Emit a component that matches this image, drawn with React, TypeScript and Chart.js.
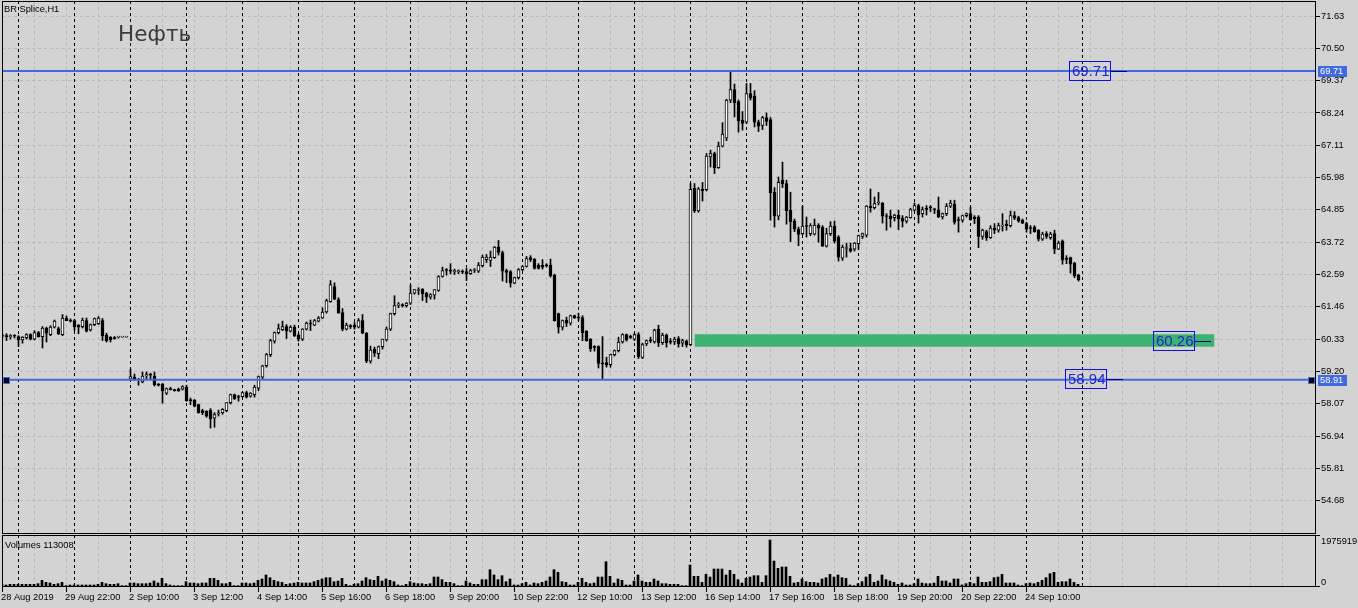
import React, { useEffect, useRef } from 'react';
import { Chart, registerables } from 'chart.js';

Chart.register(...registerables);

// ---------------- data ----------------
const symbolTitle = 'BR Splice,H1';
const chartTitle = 'Нефть';

const xLabels = ['28 Aug 2019', '29 Aug 22:00', '2 Sep 10:00', '3 Sep 12:00', '4 Sep 14:00', '5 Sep 16:00', '6 Sep 18:00', '9 Sep 20:00', '10 Sep 22:00', '12 Sep 10:00', '13 Sep 12:00', '16 Sep 14:00', '17 Sep 16:00', '18 Sep 18:00', '19 Sep 20:00', '20 Sep 22:00', '24 Sep 10:00'];
const xLabelBars = [0, 16, 32, 48, 64, 80, 96, 112, 128, 144, 160, 176, 192, 208, 224, 240, 256];

const priceTicks = [54.68, 55.81, 56.94, 58.07, 59.20, 60.33, 61.46, 62.59, 63.72, 64.85, 65.98, 67.11, 68.24, 69.37, 70.50, 71.63];

const opens = [
  60.43, 60.45, 60.42, 60.45, 60.42, 60.30, 60.38, 60.49, 60.33, 60.56,
  60.42, 60.72, 60.49, 60.75, 60.70, 60.49, 61.07, 60.99, 60.98, 60.82,
  60.77, 60.98, 60.65, 60.84, 60.87, 60.98, 60.47, 60.40, 60.38, 60.40,
  60.40, 60.40, 58.93, 59.00, 58.93, 58.83, 59.04, 59.09, 59.04, 58.74,
  58.76, 58.44, 58.60, 58.55, 58.58, 58.58, 58.65, 58.20, 58.20, 58.04,
  57.83, 57.81, 57.85, 57.57, 57.72, 57.76, 57.83, 58.11, 58.39, 58.30,
  58.32, 58.46, 58.34, 58.39, 58.62, 59.00, 59.40, 59.79, 60.26, 60.56,
  60.66, 60.77, 60.61, 60.75, 60.47, 60.33, 60.68, 60.87, 60.82, 60.96,
  61.07, 61.28, 61.64, 62.17, 61.71, 61.26, 60.68, 60.80, 60.82, 60.75,
  60.98, 60.54, 59.56, 59.97, 59.82, 60.07, 60.30, 60.68, 61.22, 61.52,
  61.52, 61.50, 61.59, 61.94, 62.03, 62.08, 61.94, 61.80, 61.87, 62.03,
  62.52, 62.75, 62.73, 62.69, 62.69, 62.69, 62.69, 62.62, 62.73, 62.71,
  62.90, 63.11, 63.08, 63.18, 63.55, 63.36, 62.73, 62.69, 62.29, 62.48,
  62.76, 62.87, 63.18, 63.13, 62.92, 62.92, 62.90, 62.92, 62.57, 61.22,
  60.75, 61.00, 60.89, 61.15, 61.08, 61.08, 60.61, 60.33, 60.05, 60.07,
  59.50, 59.51, 59.44, 59.79, 59.93, 60.23, 60.49, 60.40, 60.33, 60.49,
  59.69, 60.16, 60.28, 60.23, 60.68, 60.21, 60.47, 60.23, 60.23, 60.35,
  60.19, 60.26, 60.14, 65.60, 64.81, 65.58, 65.56, 66.70, 66.82, 66.33,
  67.08, 67.36, 68.69, 69.06, 68.64, 67.99, 67.92, 68.92, 68.83, 67.92,
  67.80, 68.08, 68.01, 65.47, 64.63, 65.89, 65.77, 64.84, 64.46, 64.18,
  64.02, 64.28, 64.02, 64.00, 64.32, 64.25, 63.58, 64.02, 64.28, 63.90,
  63.16, 63.50, 63.50, 63.48, 63.67, 63.92, 63.97, 64.98, 64.93, 65.09,
  65.09, 64.63, 64.63, 64.58, 64.67, 64.56, 64.46, 64.58, 64.84, 65.00,
  64.72, 64.88, 64.93, 64.86, 64.84, 64.60, 64.72, 64.98, 65.05, 64.49,
  64.49, 64.65, 64.72, 64.60, 64.60, 63.92, 64.09, 63.88, 64.21, 64.14,
  64.28, 64.35, 64.30, 64.65, 64.58, 64.49, 64.37, 64.21, 64.25, 64.14,
  63.83, 64.02, 63.88, 64.02, 63.48, 63.76, 63.13, 63.18, 62.99, 62.57,
];
const highs = [
  60.52, 60.52, 60.49, 60.49, 60.45, 60.42, 60.52, 60.52, 60.63, 60.60,
  60.77, 60.75, 60.80, 61.00, 60.75, 61.19, 61.14, 61.04, 61.02, 60.84,
  61.07, 61.07, 60.86, 61.07, 61.12, 61.05, 60.54, 60.42, 60.42, 60.42,
  60.40, 60.40, 59.28, 59.11, 58.95, 59.18, 59.18, 59.14, 59.18, 58.78,
  58.78, 58.62, 58.65, 58.58, 58.62, 58.70, 58.72, 58.27, 58.22, 58.06,
  57.88, 57.83, 57.90, 57.76, 57.85, 57.90, 58.11, 58.41, 58.41, 58.37,
  58.48, 58.51, 58.46, 58.72, 59.04, 59.42, 59.83, 60.33, 60.58, 60.86,
  60.96, 60.84, 60.80, 60.82, 60.52, 60.70, 60.93, 61.00, 61.02, 61.12,
  61.43, 61.73, 62.38, 62.30, 61.78, 61.40, 60.89, 60.84, 60.91, 61.05,
  61.19, 60.56, 60.09, 60.05, 60.09, 60.33, 60.75, 61.24, 61.85, 61.61,
  61.57, 61.61, 62.22, 62.06, 62.13, 62.10, 61.97, 61.92, 62.06, 62.55,
  62.85, 62.80, 62.97, 62.78, 62.75, 62.75, 62.80, 62.78, 62.80, 63.01,
  63.27, 63.29, 63.41, 63.57, 63.78, 63.41, 62.78, 62.73, 62.50, 62.80,
  62.90, 63.22, 63.25, 63.15, 62.97, 63.11, 62.97, 63.13, 62.60, 61.24,
  61.00, 61.10, 61.17, 61.17, 61.24, 61.15, 60.63, 60.35, 60.10, 60.10,
  60.42, 59.70, 59.81, 59.95, 60.40, 60.52, 60.51, 60.47, 60.54, 60.56,
  60.19, 60.30, 60.40, 60.68, 60.82, 60.54, 60.51, 60.35, 60.40, 60.42,
  60.33, 60.30, 65.77, 65.77, 65.63, 65.81, 66.82, 66.94, 66.87, 67.22,
  67.90, 68.72, 69.68, 69.25, 68.69, 68.29, 69.27, 69.27, 69.02, 67.99,
  68.12, 68.24, 68.08, 65.63, 66.00, 66.52, 65.89, 65.47, 64.53, 64.25,
  64.98, 64.60, 64.37, 64.53, 64.37, 64.30, 64.21, 64.44, 64.46, 63.95,
  63.62, 63.69, 63.69, 63.71, 63.97, 64.04, 65.00, 65.58, 65.30, 65.46,
  65.11, 64.72, 64.84, 64.70, 64.84, 64.65, 64.62, 64.91, 65.09, 65.05,
  64.95, 65.00, 65.00, 64.91, 65.30, 64.74, 65.07, 65.19, 65.19, 64.60,
  64.67, 64.74, 64.95, 64.65, 64.65, 64.18, 64.14, 64.30, 64.37, 64.39,
  64.72, 64.49, 64.81, 64.79, 64.63, 64.53, 64.42, 64.30, 64.30, 64.16,
  64.07, 64.09, 64.07, 64.14, 63.76, 63.80, 63.25, 63.20, 63.02, 62.60,
];
const lows = [
  60.37, 60.28, 60.33, 60.37, 60.07, 60.19, 60.33, 60.30, 60.30, 60.40,
  60.02, 60.23, 60.45, 60.72, 60.49, 60.45, 60.98, 60.93, 60.63, 60.52,
  60.72, 60.58, 60.61, 60.80, 60.84, 60.28, 60.23, 60.23, 60.33, 60.37,
  60.40, 60.40, 58.88, 58.88, 58.72, 58.80, 58.93, 58.93, 58.69, 58.69,
  58.09, 58.39, 58.55, 58.51, 58.51, 58.55, 58.16, 58.04, 57.96, 57.74,
  57.69, 57.60, 57.22, 57.25, 57.64, 57.70, 57.79, 58.06, 58.22, 58.16,
  58.30, 58.27, 58.30, 58.30, 58.53, 58.95, 59.35, 59.72, 60.19, 60.51,
  60.63, 60.35, 60.58, 60.42, 60.26, 60.28, 60.65, 60.63, 60.80, 60.93,
  61.05, 61.24, 61.62, 61.71, 61.24, 60.62, 60.65, 60.70, 60.68, 60.72,
  60.52, 59.51, 59.49, 59.72, 59.65, 59.98, 60.26, 60.63, 61.17, 61.43,
  61.45, 61.45, 61.54, 61.90, 61.89, 61.68, 61.61, 61.73, 61.73, 62.00,
  62.50, 62.57, 62.61, 62.59, 62.62, 62.62, 62.38, 62.59, 62.66, 62.66,
  62.85, 63.01, 62.87, 63.15, 63.27, 62.36, 62.31, 62.15, 62.27, 62.43,
  62.73, 62.85, 63.04, 62.78, 62.78, 62.78, 62.85, 62.50, 60.96, 60.54,
  60.65, 60.77, 60.82, 61.05, 60.98, 60.28, 60.26, 59.90, 59.91, 59.32,
  58.93, 59.35, 59.35, 59.74, 59.88, 60.19, 60.26, 60.35, 60.28, 59.65,
  59.65, 60.10, 60.21, 60.19, 60.07, 60.14, 60.05, 60.16, 60.14, 60.05,
  60.07, 60.05, 60.10, 64.76, 64.77, 65.16, 65.51, 66.35, 66.12, 66.30,
  67.05, 67.27, 68.60, 68.10, 67.57, 67.64, 67.87, 68.69, 67.75, 67.59,
  67.66, 67.80, 64.49, 64.25, 64.50, 65.63, 64.35, 63.74, 64.09, 63.60,
  63.97, 63.90, 63.95, 63.97, 63.72, 63.57, 63.55, 63.95, 63.69, 63.06,
  63.08, 63.20, 63.37, 63.41, 63.46, 63.85, 63.90, 64.77, 64.88, 65.02,
  64.39, 64.14, 64.25, 64.46, 64.16, 64.25, 64.39, 64.56, 64.81, 64.39,
  64.60, 64.67, 64.79, 64.72, 64.58, 64.53, 64.65, 64.93, 64.35, 64.07,
  64.42, 64.60, 64.49, 64.37, 63.53, 63.82, 63.78, 63.85, 64.02, 64.07,
  64.11, 64.14, 64.25, 64.51, 64.42, 64.37, 64.07, 64.02, 64.07, 63.76,
  63.78, 63.85, 63.82, 63.32, 63.46, 62.95, 62.97, 62.64, 62.48, 62.36,
];
const closes = [
  60.45, 60.42, 60.45, 60.43, 60.30, 60.40, 60.49, 60.33, 60.56, 60.42,
  60.72, 60.54, 60.75, 60.96, 60.51, 61.07, 60.98, 60.96, 60.77, 60.75,
  61.00, 60.61, 60.84, 61.05, 61.07, 60.44, 60.28, 60.31, 60.35, 60.40,
  60.40, 60.40, 59.02, 58.93, 58.91, 59.04, 59.09, 59.07, 58.74, 58.72,
  58.53, 58.60, 58.56, 58.53, 58.51, 58.67, 58.18, 58.18, 57.99, 57.76,
  57.76, 57.64, 57.55, 57.69, 57.74, 57.88, 58.11, 58.39, 58.25, 58.29,
  58.46, 58.30, 58.44, 58.65, 59.02, 59.40, 59.79, 60.28, 60.56, 60.70,
  60.77, 60.61, 60.75, 60.44, 60.33, 60.68, 60.89, 60.86, 60.98, 61.07,
  61.28, 61.68, 62.24, 61.73, 61.24, 60.68, 60.82, 60.77, 60.75, 60.98,
  60.54, 59.56, 59.95, 59.84, 60.07, 60.33, 60.68, 61.22, 61.50, 61.53,
  61.50, 61.59, 61.94, 62.06, 62.04, 61.92, 61.80, 61.89, 62.06, 62.52,
  62.73, 62.73, 62.71, 62.70, 62.70, 62.67, 62.62, 62.73, 62.74, 62.92,
  63.20, 63.20, 63.20, 63.55, 63.36, 62.71, 62.66, 62.29, 62.48, 62.76,
  62.87, 63.15, 63.11, 62.80, 62.80, 62.85, 62.89, 62.55, 60.98, 60.75,
  60.98, 60.89, 61.15, 61.08, 61.07, 60.56, 60.28, 60.00, 60.04, 59.48,
  59.46, 59.42, 59.79, 59.93, 60.23, 60.49, 60.30, 60.39, 60.49, 59.72,
  60.14, 60.28, 60.27, 60.65, 60.21, 60.47, 60.21, 60.22, 60.33, 60.16,
  60.28, 60.14, 65.57, 64.81, 65.59, 65.51, 66.73, 66.82, 66.33, 67.08,
  67.50, 68.69, 69.06, 68.60, 67.96, 67.87, 68.92, 68.76, 67.92, 67.78,
  68.08, 67.94, 65.44, 64.63, 65.81, 65.77, 64.81, 64.44, 64.18, 63.99,
  64.28, 64.27, 64.30, 64.32, 64.21, 63.58, 64.02, 64.28, 63.76, 63.20,
  63.55, 63.51, 63.41, 63.69, 63.95, 64.02, 64.98, 64.93, 65.07, 65.10,
  64.63, 64.62, 64.53, 64.67, 64.53, 64.46, 64.60, 64.86, 65.00, 64.67,
  64.86, 64.87, 64.92, 64.85, 64.60, 64.72, 64.98, 65.09, 64.42, 64.48,
  64.65, 64.72, 64.51, 64.53, 63.92, 64.14, 63.88, 64.21, 64.14, 64.30,
  64.29, 64.30, 64.65, 64.56, 64.46, 64.39, 64.18, 64.20, 64.09, 63.83,
  64.00, 63.92, 64.00, 63.48, 63.69, 63.09, 63.12, 62.95, 62.55, 62.41,
];
const volumes = [
  112000, 84000, 112000, 112000, 112000, 112000, 112000, 112000, 112000, 140000,
  280000, 196000, 168000, 112000, 140000, 196000, 56000, 84000, 84000, 84000,
  84000, 84000, 84000, 84000, 112000, 196000, 140000, 112000, 112000, 140000,
  56000, 56000, 168000, 168000, 140000, 140000, 140000, 168000, 252000, 168000,
  364000, 140000, 84000, 56000, 56000, 56000, 224000, 168000, 168000, 140000,
  168000, 168000, 364000, 364000, 280000, 140000, 140000, 196000, 56000, 56000,
  168000, 168000, 140000, 168000, 280000, 336000, 504000, 392000, 280000, 224000,
  196000, 112000, 140000, 168000, 196000, 168000, 168000, 168000, 224000, 280000,
  336000, 392000, 392000, 224000, 252000, 364000, 112000, 56000, 112000, 140000,
  252000, 392000, 308000, 280000, 448000, 252000, 336000, 280000, 224000, 84000,
  56000, 112000, 224000, 168000, 140000, 140000, 112000, 140000, 420000, 420000,
  308000, 196000, 196000, 140000, 56000, 56000, 252000, 168000, 112000, 112000,
  308000, 308000, 728000, 504000, 308000, 476000, 224000, 336000, 84000, 84000,
  140000, 196000, 84000, 168000, 140000, 196000, 252000, 420000, 728000, 616000,
  224000, 196000, 84000, 84000, 196000, 364000, 196000, 140000, 168000, 420000,
  420000, 1064000, 448000, 168000, 336000, 280000, 84000, 84000, 252000, 504000,
  252000, 196000, 196000, 336000, 252000, 140000, 140000, 112000, 112000, 112000,
  56000, 56000, 924000, 448000, 448000, 196000, 532000, 420000, 756000, 756000,
  756000, 504000, 700000, 532000, 308000, 168000, 364000, 420000, 476000, 476000,
  196000, 476000, 1975919, 1092000, 784000, 840000, 840000, 448000, 168000, 196000,
  336000, 224000, 196000, 196000, 168000, 336000, 392000, 532000, 420000, 504000,
  392000, 364000, 84000, 56000, 140000, 224000, 420000, 532000, 196000, 252000,
  504000, 308000, 252000, 196000, 112000, 168000, 84000, 84000, 140000, 336000,
  168000, 140000, 140000, 168000, 448000, 252000, 252000, 168000, 336000, 336000,
  84000, 140000, 196000, 140000, 420000, 196000, 196000, 224000, 392000, 420000,
  532000, 168000, 168000, 168000, 84000, 56000, 140000, 168000, 140000, 196000,
  280000, 392000, 560000, 616000, 196000, 224000, 224000, 336000, 196000, 113008,
];

// horizontal levels (the second one is the selected object with handles)
const levelPrices = [69.71, 58.91];
const selectedLevel = 58.91;
// green zone rectangle
const zoneLow = 60.06;
const zoneHigh = 60.50;
const zoneFromBar = 173;
const zoneToBar = 303;
// text tags
const tagTexts = ['69.71', '60.26', '58.94'];
const tagBars = [266.6, 287.6, 265.6];
const tagPrices = [69.71, 60.28, 58.94];
// title anchor
const titleBar = 28.9;
const titlePrice = 70.76;

const gridBars = [0, 8, 16, 24, 32, 40, 48, 56, 64, 72, 80, 88, 96, 104, 112, 120, 128, 136, 144, 152, 160, 168, 176, 184, 192, 200, 208, 216, 224, 232, 240, 248, 256, 264, 272, 280, 288, 296, 304, 312, 320];
const separatorBars = [4, 18, 32, 46, 60, 74, 88, 102, 116, 130, 144, 158, 172, 186, 200, 214, 228, 242, 256, 270];

// ---------------- styling / scale setup ----------------
const BG = '#d3d3d3';
const GRID = '#b8b8b8';
const LEVEL_BLUE = '#4169e1';
const FONT = '"Liberation Sans", Arial, sans-serif';
const SMALL = 9.3;

const X_MIN = -0.125;
const X_MAX = 328.375;
const PRICE_MIN = 53.516;
const PRICE_MAX = 72.155;
const VOL_MAX = 2186124;

Chart.defaults.font.family = FONT;

const crispX = (p: number) => Math.floor(p + 0.25) + 0.5;

function drawVerticalGrid(chart: any) {
  const { ctx, chartArea: a, scales } = chart;
  const x = scales.x;
  ctx.save();
  ctx.beginPath();
  ctx.rect(a.left, a.top, a.right - a.left, a.bottom - a.top);
  ctx.clip();
  ctx.lineWidth = 1;
  ctx.setLineDash([3, 3]);
  ctx.strokeStyle = GRID;
  ctx.beginPath();
  for (const b of gridBars) {
    const px = crispX(x.getPixelForValue(b));
    ctx.moveTo(px, a.top);
    ctx.lineTo(px, a.bottom);
  }
  ctx.stroke();
  ctx.strokeStyle = '#000000';
  ctx.beginPath();
  for (const b of separatorBars) {
    const px = crispX(x.getPixelForValue(b));
    ctx.moveTo(px, a.top);
    ctx.lineTo(px, a.bottom);
  }
  ctx.stroke();
  ctx.restore();
}

function drawFrame(chart: any) {
  const { ctx, chartArea: a } = chart;
  ctx.save();
  ctx.strokeStyle = '#000';
  ctx.lineWidth = 1;
  ctx.setLineDash([]);
  ctx.strokeRect(a.left + 0.5, a.top + 0.5, a.right - a.left - 1, a.bottom - a.top - 1);
  ctx.restore();
}

const mainDecor = {
  id: 'mainDecor',
  beforeDatasetsDraw(chart: any) {
    drawVerticalGrid(chart);
  },
  afterDatasetsDraw(chart: any) {
    const { ctx, chartArea: a, scales } = chart;
    const x = scales.x;
    const y = scales.y;
    ctx.save();
    // chart title text object
    ctx.fillStyle = '#3a3a3a';
    ctx.font = '21.5px "DejaVu Sans", sans-serif';
    ctx.textAlign = 'left';
    ctx.textBaseline = 'alphabetic';
    ctx.fillText(chartTitle, x.getPixelForValue(titleBar), y.getPixelForValue(titlePrice));

    // text tags
    ctx.font = `15px ${FONT}`;
    ctx.textBaseline = 'middle';
    tagTexts.forEach((t, i) => {
      const left = Math.round(x.getPixelForValue(tagBars[i]));
      const cy = Math.round(y.getPixelForValue(tagPrices[i]));
      ctx.strokeStyle = '#1010e6';
      ctx.lineWidth = 1;
      ctx.strokeRect(left + 0.5, cy - 10 + 0.5, 41, 19);
      ctx.fillStyle = '#2222d2';
      ctx.fillText(t, left + 3, cy + 1);
      ctx.strokeStyle = '#00008b';
      ctx.beginPath();
      ctx.moveTo(left + 42, cy + 0.5);
      ctx.lineTo(left + 58, cy + 0.5);
      ctx.stroke();
    });

    // selection handles on the selected level
    const sy = Math.round(y.getPixelForValue(selectedLevel));
    const handles = [a.left + 1, a.right - 8];
    for (const hx of handles) {
      ctx.fillStyle = LEVEL_BLUE;
      ctx.fillRect(hx, sy - 3, 7, 7);
      ctx.fillStyle = '#000';
      ctx.fillRect(hx + 1, sy - 2, 5, 5);
    }
    ctx.restore();
  },
  afterDraw(chart: any) {
    const { ctx, chartArea: a, scales } = chart;
    const y = scales.y;
    drawFrame(chart);
    ctx.save();
    ctx.font = `${SMALL}px ${FONT}`;
    ctx.textBaseline = 'middle';
    ctx.textAlign = 'left';
    ctx.fillStyle = '#000';
    ctx.fillText(symbolTitle, a.left + 2, a.top + 8);
    // level value badges on the price axis
    for (const v of levelPrices) {
      const py = Math.round(y.getPixelForValue(v));
      ctx.fillStyle = LEVEL_BLUE;
      ctx.fillRect(a.right + 2, py - 5, 29, 11);
      ctx.fillStyle = '#ffffff';
      ctx.fillText(v.toFixed(2), a.right + 4, py + 0.5);
    }
    ctx.restore();
  },
};

const volDecor = {
  id: 'volDecor',
  beforeDatasetsDraw(chart: any) {
    drawVerticalGrid(chart);
  },
  afterDraw(chart: any) {
    const { ctx, chartArea: a, scales } = chart;
    const x = scales.x;
    drawFrame(chart);
    ctx.save();
    ctx.font = `${SMALL}px ${FONT}`;
    ctx.textBaseline = 'middle';
    ctx.textAlign = 'left';
    ctx.fillStyle = '#000';
    ctx.fillText(`Volumes ${volumes[volumes.length - 1]}`, a.left + 3, a.top + 10);
    // right scale
    ctx.strokeStyle = '#000';
    ctx.lineWidth = 1;
    ctx.beginPath();
    ctx.moveTo(a.right, a.top + 0.5);
    ctx.lineTo(a.right + 4, a.top + 0.5);
    ctx.moveTo(a.right, a.bottom - 0.5);
    ctx.lineTo(a.right + 4, a.bottom - 0.5);
    ctx.stroke();
    ctx.fillText(String(Math.max(...volumes)), a.right + 5, a.top + 6);
    ctx.fillText('0', a.right + 5, a.bottom - 5);
    // time axis
    ctx.beginPath();
    xLabelBars.forEach((b) => {
      const px = crispX(x.getPixelForValue(b));
      ctx.moveTo(px, a.bottom);
      ctx.lineTo(px, a.bottom + 5);
    });
    ctx.stroke();
    xLabelBars.forEach((b, i) => {
      const px = crispX(x.getPixelForValue(b));
      ctx.fillText(xLabels[i], px - 1.5, a.bottom + 10);
    });
    ctx.restore();
  },
};

export default function App() {
  const mainRef = useRef<HTMLCanvasElement>(null);
  const volRef = useRef<HTMLCanvasElement>(null);

  useEffect(() => {
    const idx = opens.map((_, i) => i);
    const wickData = idx.map((i) => ({ x: i, y: [lows[i], highs[i]] }));
    const bodyData = idx.map((i) => ({ x: i, y: [Math.min(opens[i], closes[i]), Math.max(opens[i], closes[i])] }));
    const bodyColors = idx.map((i) => (closes[i] >= opens[i] ? '#ffffff' : '#000000'));

    const levelSets = levelPrices.map((v) => ({
      type: 'line' as const,
      data: [{ x: X_MIN, y: v }, { x: X_MAX, y: v }],
      borderColor: LEVEL_BLUE,
      borderWidth: 2,
      pointRadius: 0,
      fill: false,
      order: 1,
    }));

    const main = new Chart(mainRef.current as HTMLCanvasElement, {
      type: 'bar',
      data: {
        datasets: [
          {
            type: 'line',
            data: [{ x: zoneFromBar, y: zoneLow }, { x: zoneToBar, y: zoneLow }],
            borderColor: 'rgba(0,0,0,0)',
            borderWidth: 0,
            pointRadius: 0,
            backgroundColor: '#3cb371',
            fill: { value: zoneHigh },
            order: 10,
          } as any,
          {
            type: 'bar',
            data: wickData,
            backgroundColor: '#000000',
            barThickness: 1,
            grouped: false,
            order: 3,
          } as any,
          {
            type: 'bar',
            data: bodyData,
            backgroundColor: bodyColors,
            borderColor: '#000000',
            borderWidth: 1,
            borderSkipped: false,
            barThickness: 3,
            minBarLength: 1,
            grouped: false,
            order: 2,
          } as any,
          ...(levelSets as any[]),
        ],
      },
      options: {
        animation: false,
        responsive: false,
        events: [],
        layout: { padding: { left: 2, top: 1, right: 0, bottom: 0 } },
        plugins: { legend: { display: false }, tooltip: { enabled: false }, title: { display: false } },
        scales: {
          x: { type: 'linear', min: X_MIN, max: X_MAX, display: false, offset: false },
          y: {
            type: 'linear',
            position: 'right',
            min: PRICE_MIN,
            max: PRICE_MAX,
            afterBuildTicks: (s: any) => {
              s.ticks = priceTicks.map((v) => ({ value: v }));
            },
            afterFit: (s: any) => {
              s.width = 42;
              s.paddingTop = 0;
              s.paddingBottom = 0;
            },
            ticks: {
              autoSkip: false,
              padding: 1,
              color: '#000000',
              font: { size: SMALL, family: FONT },
              callback: (v: any) => Number(v).toFixed(2),
            },
            grid: { color: GRID, lineWidth: 1, drawTicks: true, tickLength: 4, tickColor: '#000000', tickWidth: 1 },
            border: { display: false, dash: [3, 3] },
          },
        },
      } as any,
      plugins: [mainDecor],
    });

    const vol = new Chart(volRef.current as HTMLCanvasElement, {
      type: 'bar',
      data: {
        datasets: [
          {
            data: idx.map((i) => ({ x: i, y: volumes[i] })),
            backgroundColor: '#000000',
            barThickness: 2,
            grouped: false,
          } as any,
        ],
      },
      options: {
        animation: false,
        responsive: false,
        events: [],
        layout: { padding: { left: 2, top: 1, right: 42, bottom: 21 } },
        plugins: { legend: { display: false }, tooltip: { enabled: false } },
        scales: {
          x: { type: 'linear', min: X_MIN + 0.125, max: X_MAX + 0.125, display: false, offset: false },
          y: { type: 'linear', min: 0, max: VOL_MAX, display: false },
        },
      } as any,
      plugins: [volDecor],
    });

    return () => {
      main.destroy();
      vol.destroy();
    };
  }, []);

  return (
    <div style={{ position: 'fixed', left: 0, top: 0, width: 1358, height: 608, background: BG, overflow: 'hidden' }}>
      <canvas ref={mainRef} width={1358} height={534} style={{ position: 'absolute', left: 0, top: 0, width: 1358, height: 534 }} />
      <canvas ref={volRef} width={1358} height={74} style={{ position: 'absolute', left: 0, top: 534, width: 1358, height: 74 }} />
    </div>
  );
}
